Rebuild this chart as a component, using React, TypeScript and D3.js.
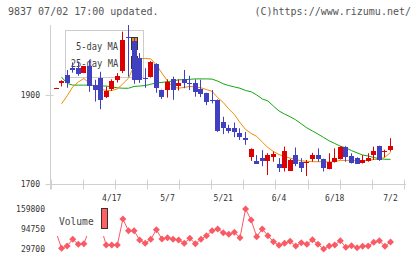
import React from 'react';
import * as d3 from 'd3';

// daily prices (oldest first)
const openP = [1914, 1927, 1945, 1961, 1961, 1950, 1964, 1922, 1937, 1896, 1913, 1934, 1954, 2030, 2022, 1982, 1938, 1940, 1970, 1911, 1910, 1935, 1919, 1935, 1927, 1926, 1913, 1904, 1888, 1889, 1840, 1825, 1825, 1814, 1804, 1761, 1752, 1758, 1752, 1761, 1746, 1735, 1730, 1765, 1750, 1748, 1756, 1765, 1756, 1734, 1749, 1756, 1784, 1763, 1759, 1747, 1752, 1764, 1785, 1773, 1776];
const highP = [1916, 1933, 1956, 1973, 1975, 1965, 1979, 1934, 1952, 1919, 1935, 1949, 2042, 2057, 2028, 1994, 1960, 1976, 1971, 1912, 1935, 1941, 1935, 1956, 1943, 1935, 1934, 1905, 1911, 1890, 1851, 1833, 1838, 1825, 1817, 1780, 1765, 1776, 1769, 1773, 1758, 1784, 1756, 1782, 1758, 1754, 1770, 1780, 1757, 1769, 1780, 1785, 1785, 1769, 1760, 1765, 1769, 1784, 1786, 1777, 1803];
const lowP = [1914, 1919, 1916, 1950, 1943, 1949, 1907, 1885, 1868, 1893, 1909, 1928, 1949, 1941, 1925, 1927, 1916, 1939, 1905, 1891, 1894, 1889, 1910, 1915, 1911, 1896, 1895, 1877, 1881, 1817, 1812, 1814, 1805, 1799, 1788, 1752, 1746, 1740, 1720, 1750, 1727, 1728, 1729, 1740, 1727, 1718, 1750, 1750, 1728, 1733, 1748, 1755, 1750, 1746, 1745, 1746, 1750, 1754, 1752, 1760, 1773];
const closeP = [1915, 1931, 1926, 1955, 1946, 1964, 1919, 1910, 1889, 1909, 1931, 1943, 2024, 2029, 1934, 1934, 1937, 1975, 1916, 1896, 1930, 1910, 1926, 1926, 1925, 1907, 1902, 1885, 1887, 1820, 1825, 1820, 1817, 1806, 1799, 1779, 1746, 1752, 1764, 1767, 1737, 1773, 1754, 1746, 1737, 1750, 1764, 1756, 1735, 1749, 1759, 1784, 1761, 1748, 1746, 1753, 1758, 1773, 1754, 1775, 1785];

const ma5 = [null, 1880, 1898, 1918, 1929, 1937, 1926, 1918, 1913, 1910, 1910, 1913.5, 1925, 1937.5, 1965, 1981, 1982, 1981, 1967, 1949, 1931, 1918, 1915, 1917, 1919, 1918, 1916, 1912, 1908, 1894, 1883, 1868.5, 1856, 1838, 1822.5, 1813.5, 1807, 1794, 1782, 1773, 1766, 1762, 1758, 1755, 1752, 1751, 1750, 1750, 1750, 1749, 1751, 1753, 1753, 1753, 1752, 1752, 1753, 1755, 1755.5, 1760, 1771];
const ma25 = [null, 1940, 1926, 1922, 1922, 1922, 1922, 1921, 1920, 1920, 1918, 1916, 1915, 1915, 1919, 1920, 1921, 1924, 1927, 1928, 1930, 1931, 1934, 1934, 1935, 1936, 1936, 1936, 1935.5, 1931, 1925, 1921, 1918, 1915, 1910, 1907, 1900, 1891, 1886.5, 1875, 1864, 1857, 1851, 1844, 1835, 1826, 1819, 1812, 1804.5, 1797, 1791, 1785, 1781, 1775, 1770, 1765, 1763, 1759.5, 1757, 1755.5, 1755.5];

const volume = [85000, 32000, 39500, 61300, 45000, 46900, 94800, 98000, 104500, 42700, 42700, 42700, 127300, 89200, 89200, 59000, 48200, 61300, 92500, 62200, 66500, 61300, 59000, 48200, 64500, 46900, 61300, 73000, 89200, 94800, 82700, 77500, 84000, 66500, 159800, 124000, 69700, 94800, 73000, 53400, 41700, 48200, 54700, 39500, 50200, 45000, 59900, 45000, 29700, 39500, 42700, 56700, 35200, 40400, 33900, 38500, 39500, 51500, 56700, 38500, 52500];

const dateLabels = ['4/17', '5/7', '5/21', '6/4', '6/18', '7/2'];
const dateLabelIdx = [10, 20, 30, 40, 50, 60];
const priceTicks = [1900, 1700];
const volumeTicks = [159800, 94750, 29700];

const MONO = '"DejaVu Sans Mono", monospace';
const RED = '#dd0000';
const BLUE = '#4040c0';
const VOL = '#fa5a64';

export default function App() {
  const n = closeP.length;
  const x = d3.scaleLinear().domain([0, n - 1]).range([56, 390.5]);
  const y = d3.scaleLinear().domain([1700, d3.max(highP) as number]).range([184, 25]);
  const yv = d3.scaleLinear()
    .domain([d3.min(volume) as number, d3.max(volume) as number])
    .range([249, 209]);
  const grid = d3.scaleLinear().domain([0, 11]).range([50.5, 404]);

  const maLine = d3.line<number | null>()
    .defined(d => d != null)
    .x((d, i) => x(i))
    .y(d => y(d as number));
  const volLine = d3.line<number>().x((d, i) => x(i)).y(d => yv(d));

  const r = 3.5;
  const diamond = `M0,${-r}L${r},0L0,${r}L${-r},0Z`;

  return (
    <svg width={420} height={259} style={{ position: 'absolute', left: 0, top: 0, background: '#fff' }}
      fontFamily={MONO}>
      <rect width={420} height={259} fill="#fff" />
      <text x={8} y={15} fontSize={10} fill="#555">9837 07/02 17:00 updated.</text>
      <text x={411} y={15} fontSize={10} fill="#555" textAnchor="end">(C)https://www.rizumu.net/</text>

      {/* axes */}
      <line x1={50.5} x2={50.5} y1={25} y2={189.5} stroke="#d0d0d0" />
      <line x1={45.5} x2={406} y1={184.5} y2={184.5} stroke="#d0d0d0" />
      <line x1={45.5} x2={53.5} y1={Math.round(y(1900)) + 0.5} y2={Math.round(y(1900)) + 0.5} stroke="#d0d0d0" />
      {d3.range(12).map(k => (
        <line key={k} x1={Math.round(grid(k)) + 0.5} x2={Math.round(grid(k)) + 0.5} y1={179.5} y2={189.5} stroke="#d0d0d0" />
      ))}
      {priceTicks.map(t => (
        <text key={t} x={40} y={y(t)} dy="0.35em" fontSize={8} fill="#333" textAnchor="end">{t}</text>
      ))}
      {dateLabels.map((d, i) => (
        <text key={d} x={x(dateLabelIdx[i])} y={201} fontSize={8} fill="#333" textAnchor="middle">{d}</text>
      ))}

      {/* price legend */}
      <rect x={65.5} y={30.5} width={78} height={47} fill="#fff" fillOpacity={0.85} stroke="#cccccc" />
      <text x={76} y={50} fontSize={11} fill="#444" textLength={42} lengthAdjust="spacingAndGlyphs">5-day MA</text>
      <text x={70.7} y={67} fontSize={11} fill="#444" textLength={47.5} lengthAdjust="spacingAndGlyphs">25-day MA</text>
      <rect x={131.5} y={37.5} width={6} height={12} fill="#f08c00" stroke="#333" />
      <rect x={131.5} y={56.5} width={6} height={12} fill="#11a811" stroke="#333" />

      {/* moving averages */}
      <path d={maLine(ma25) ?? ''} fill="none" stroke="#11a811" strokeWidth={1} />
      <path d={maLine(ma5) ?? ''} fill="none" stroke="#f08c00" strokeWidth={1} />

      {/* candles */}
      {closeP.map((c, i) => {
        const o = openP[i];
        const up = c >= o;
        const col = up ? RED : BLUE;
        const cx = Math.floor(x(i)) + 0.5;
        const top = Math.round(y(Math.max(o, c)));
        const bot = Math.round(y(Math.min(o, c)));
        return (
          <g key={i}>
            <line x1={cx} x2={cx} y1={y(highP[i])} y2={y(lowP[i])} stroke={col} />
            <rect x={Math.round(x(i) - 2.5)} y={top} width={5} height={Math.max(1, bot - top)} fill={col} />
          </g>
        );
      })}

      {/* volume */}
      <path d={volLine(volume) ?? ''} fill="none" stroke={VOL} strokeWidth={1} />
      {volume.map((v, i) => (
        <path key={i} d={diamond} transform={`translate(${x(i)},${yv(v)})`} fill={VOL} />
      ))}
      <rect x={48} y={203} width={64} height={33} fill="#fff" />
      <text x={59} y={225} fontSize={9.6} fill="#444">Volume</text>
      <rect x={101.5} y={208.5} width={6} height={20} fill="#ff6060" stroke="#333" />
      {volumeTicks.map(t => (
        <text key={t} x={45} y={yv(t)} dy="0.35em" fontSize={8} fill="#333" textAnchor="end">{t}</text>
      ))}
    </svg>
  );
}
